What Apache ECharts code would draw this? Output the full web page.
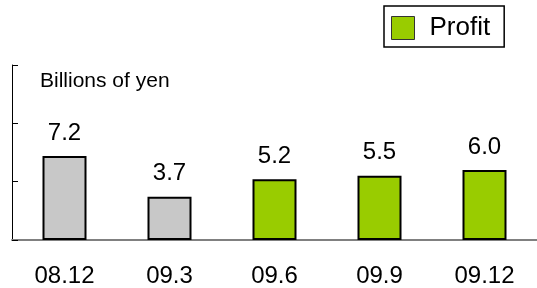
<!DOCTYPE html>
<html>
<head>
<meta charset="utf-8">
<script src="https://cdn.jsdelivr.net/npm/echarts@6/dist/echarts.min.js"></script>
<style>
  html, body { margin: 0; padding: 0; background: #fff; }
  #chart { width: 537px; height: 288px; }
</style>
</head>
<body>
<div id="chart"></div>
<script>
'use strict';

const periods = ['08.12', '09.3', '09.6', '09.9', '09.12'];
const profit = [7.2, 3.7, 5.2, 5.5, 6.0];
const pastPeriods = ['08.12', '09.3'];   // drawn grey
const unitLabel = 'Billions of yen';

const font = 'Liberation Sans, Arial, sans-serif';

let chart = echarts.init(document.getElementById('chart'));

let barData = profit.map(function (v, i) {
    let item = { value: v };
    if (pastPeriods.indexOf(periods[i]) >= 0) {
        item.itemStyle = { color: '#c8c8c8' };
    }
    return item;
});

let option = {
    animation: false,
    backgroundColor: '#fff',
    textStyle: { fontFamily: font },
    graphic: [{
        type: 'text',
        left: 40,
        top: 71,
        style: { text: unitLabel, fontSize: 21, fontFamily: font, fill: '#000' }
    }],
    legend: {
        data: ['Profit'],
        left: 384,
        top: 6,
        padding: [9, 14, 6, 7],
        borderColor: '#000',
        borderWidth: 1.5,
        itemWidth: 23,
        itemHeight: 23,
        icon: 'rect',
        itemStyle: { borderColor: '#333', borderWidth: 1 },
        textStyle: { fontSize: 26, color: '#000', fontFamily: font, padding: [0, 0, 0, 10] }
    },
    grid: { left: 12, top: 65, width: 530, bottom: 48 },
    xAxis: {
        type: 'category',
        data: periods,
        axisLine: { lineStyle: { color: '#808080', width: 2 } },
        axisTick: { inside: true, length: 6, lineStyle: { color: '#000' } },
        axisLabel: { fontSize: 24, color: '#000', margin: 24, fontFamily: font }
    },
    yAxis: {
        type: 'value',
        min: 0,
        max: 15,
        interval: 5,
        axisLine: { show: true, lineStyle: { color: '#000', width: 1 } },
        axisTick: { show: true, inside: true, length: 6, lineStyle: { color: '#000' } },
        axisLabel: { show: false },
        splitLine: { show: false }
    },
    series: [{
        name: 'Profit',
        type: 'bar',
        barWidth: 44,
        data: barData,
        itemStyle: { color: '#99cc00', borderColor: '#000', borderWidth: 2 },
        label: {
            show: true,
            position: 'top',
            distance: 11,
            fontSize: 24,
            color: '#000',
            fontFamily: font,
            formatter: function (p) { return p.value.toFixed(1); }
        }
    }]
};

chart.setOption(option);
</script>
</body>
</html>
